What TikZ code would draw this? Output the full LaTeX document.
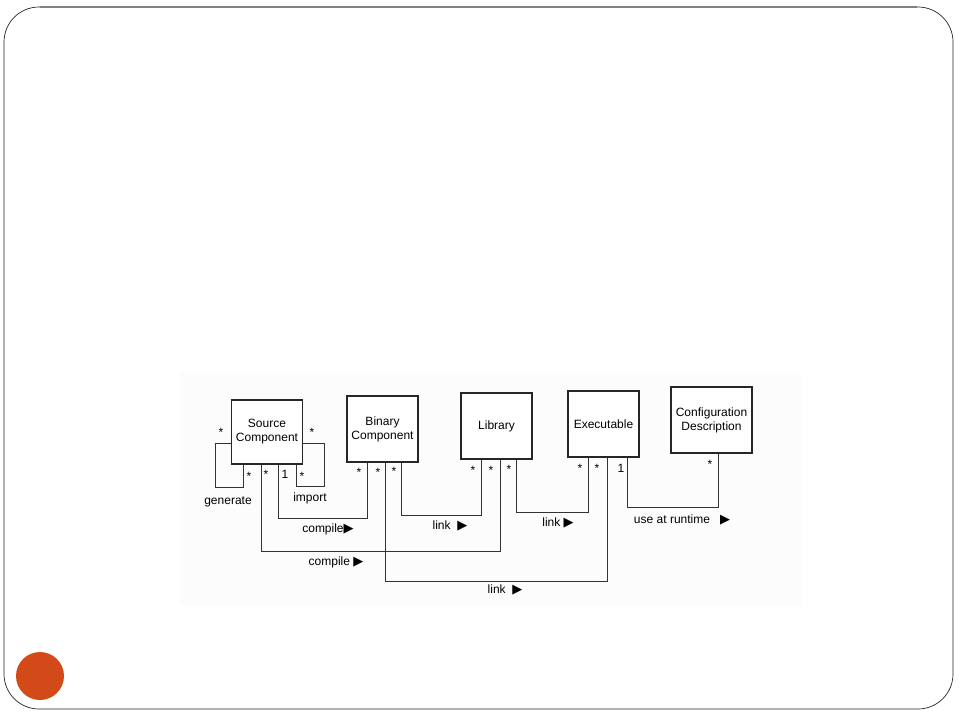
\documentclass[tikz,border=0pt]{standalone}
\usepackage{fontspec}
\setmainfont{Liberation Sans}
\newfontfamily\symfont{DejaVu Sans}
\newcommand{\rtri}{{\symfont\fontsize{13}{13}\selectfont ▶}}
\definecolor{dotorange}{HTML}{D24A17}
\begin{document}
\begin{tikzpicture}[x=1pt,y=-1pt,
  box/.style={draw=black!85,line width=1.1pt,fill=white,inner sep=0pt,align=center,
     font=\fontsize{12}{14}\selectfont},
  conn/.style={draw=black!80,line width=0.9pt},
  mult/.style={inner sep=0pt,font=\fontsize{12}{12}\selectfont},
  lbl/.style={inner sep=0pt,font=\fontsize{12}{14}\selectfont}]
\useasboundingbox (0,0) rectangle (960,720);
% slide frame
\draw[black!85,line width=0.7pt,rounded corners=35pt] (4,7) rectangle (953,709);
\draw[black!50,line width=1.4pt] (40,7) -- (917,7);
\fill[dotorange] (40,676) circle (24);
% faint scan area
\fill[black!1] (180,373) rectangle (802,606);
% boxes
\node[box,minimum width=71pt,minimum height=64pt] (src) at (267,432) {Source\\Component};
\node[box,minimum width=71pt,minimum height=66pt] (bin) at (382.5,429) {Binary\\Component};
\node[box,minimum width=71pt,minimum height=66pt] (lib) at (496.5,426) {Library};
\node[box,minimum width=71pt,minimum height=66pt] (exe) at (603.5,424) {Executable};
\node[box,minimum width=81pt,minimum height=66pt] (cfg) at (711.5,420) {Configuration\\Description};
% generate self loop
\draw[conn] (src.west |- 0,443) -| (215,487) -| (src.south -| 243,0);
% import self loop
\draw[conn] (src.east |- 0,443) -| (324,486) -| (src.south -| 296,0);
% compile: source -> binary
\draw[conn] (src.south -| 278,0) |- (367,518) -- (bin.south -| 367,0);
% compile: source -> library
\draw[conn] (src.south -| 261,0) |- (500,551) -- (lib.south -| 500,0);
% link: binary -> library
\draw[conn] (bin.south -| 401,0) |- (481,515) -- (lib.south -| 481,0);
% link: binary -> executable
\draw[conn] (bin.south -| 385,0) |- (607,581) -- (exe.south -| 607,0);
% link: library -> executable
\draw[conn] (lib.south -| 516,0) |- (588,512) -- (exe.south -| 588,0);
% use at runtime: executable -> configuration
\draw[conn] (exe.south -| 627,0) |- (718,507) -- (cfg.south -| 718,0);
% multiplicities
\node[mult] (m1) at (221,432) {*};
\node[mult] (m2) at (249,476) {*};
\node[mult] (m3) at (312,432) {*};
\node[mult] (m4) at (302,476) {*};
\node[mult] (m5) at (266,474) {*};
\node[lbl] (m6) at (285,474) {1};
\node[mult] (m7) at (359,472) {*};
\node[mult] (m8) at (378,472) {*};
\node[mult] (m9) at (394,471) {*};
\node[mult] (m10) at (473,470) {*};
\node[mult] (m11) at (491,470) {*};
\node[mult] (m12) at (509,469) {*};
\node[mult] (m13) at (580,468) {*};
\node[mult] (m14) at (597,468) {*};
\node[lbl] (m15) at (621,468) {1};
\node[mult] (m16) at (710,464) {*};
% association labels
\node[lbl] (lgen) at (228,502) {generate};
\node[lbl] (limp) at (310,498) {import};
\node[lbl] (lc1) at (328,529) {compile\rtri};
\node[lbl] (lc2) at (336,562) {compile \rtri};
\node[lbl] (ll1) at (450,526) {link\ \ \rtri};
\node[lbl] (ll2) at (558,523) {link \rtri};
\node[lbl] (ll3) at (505,590) {link\ \ \rtri};
\node[lbl] (lrt) at (682,520) {use at runtime\ \ \ \rtri};
\end{tikzpicture}
\end{document}
